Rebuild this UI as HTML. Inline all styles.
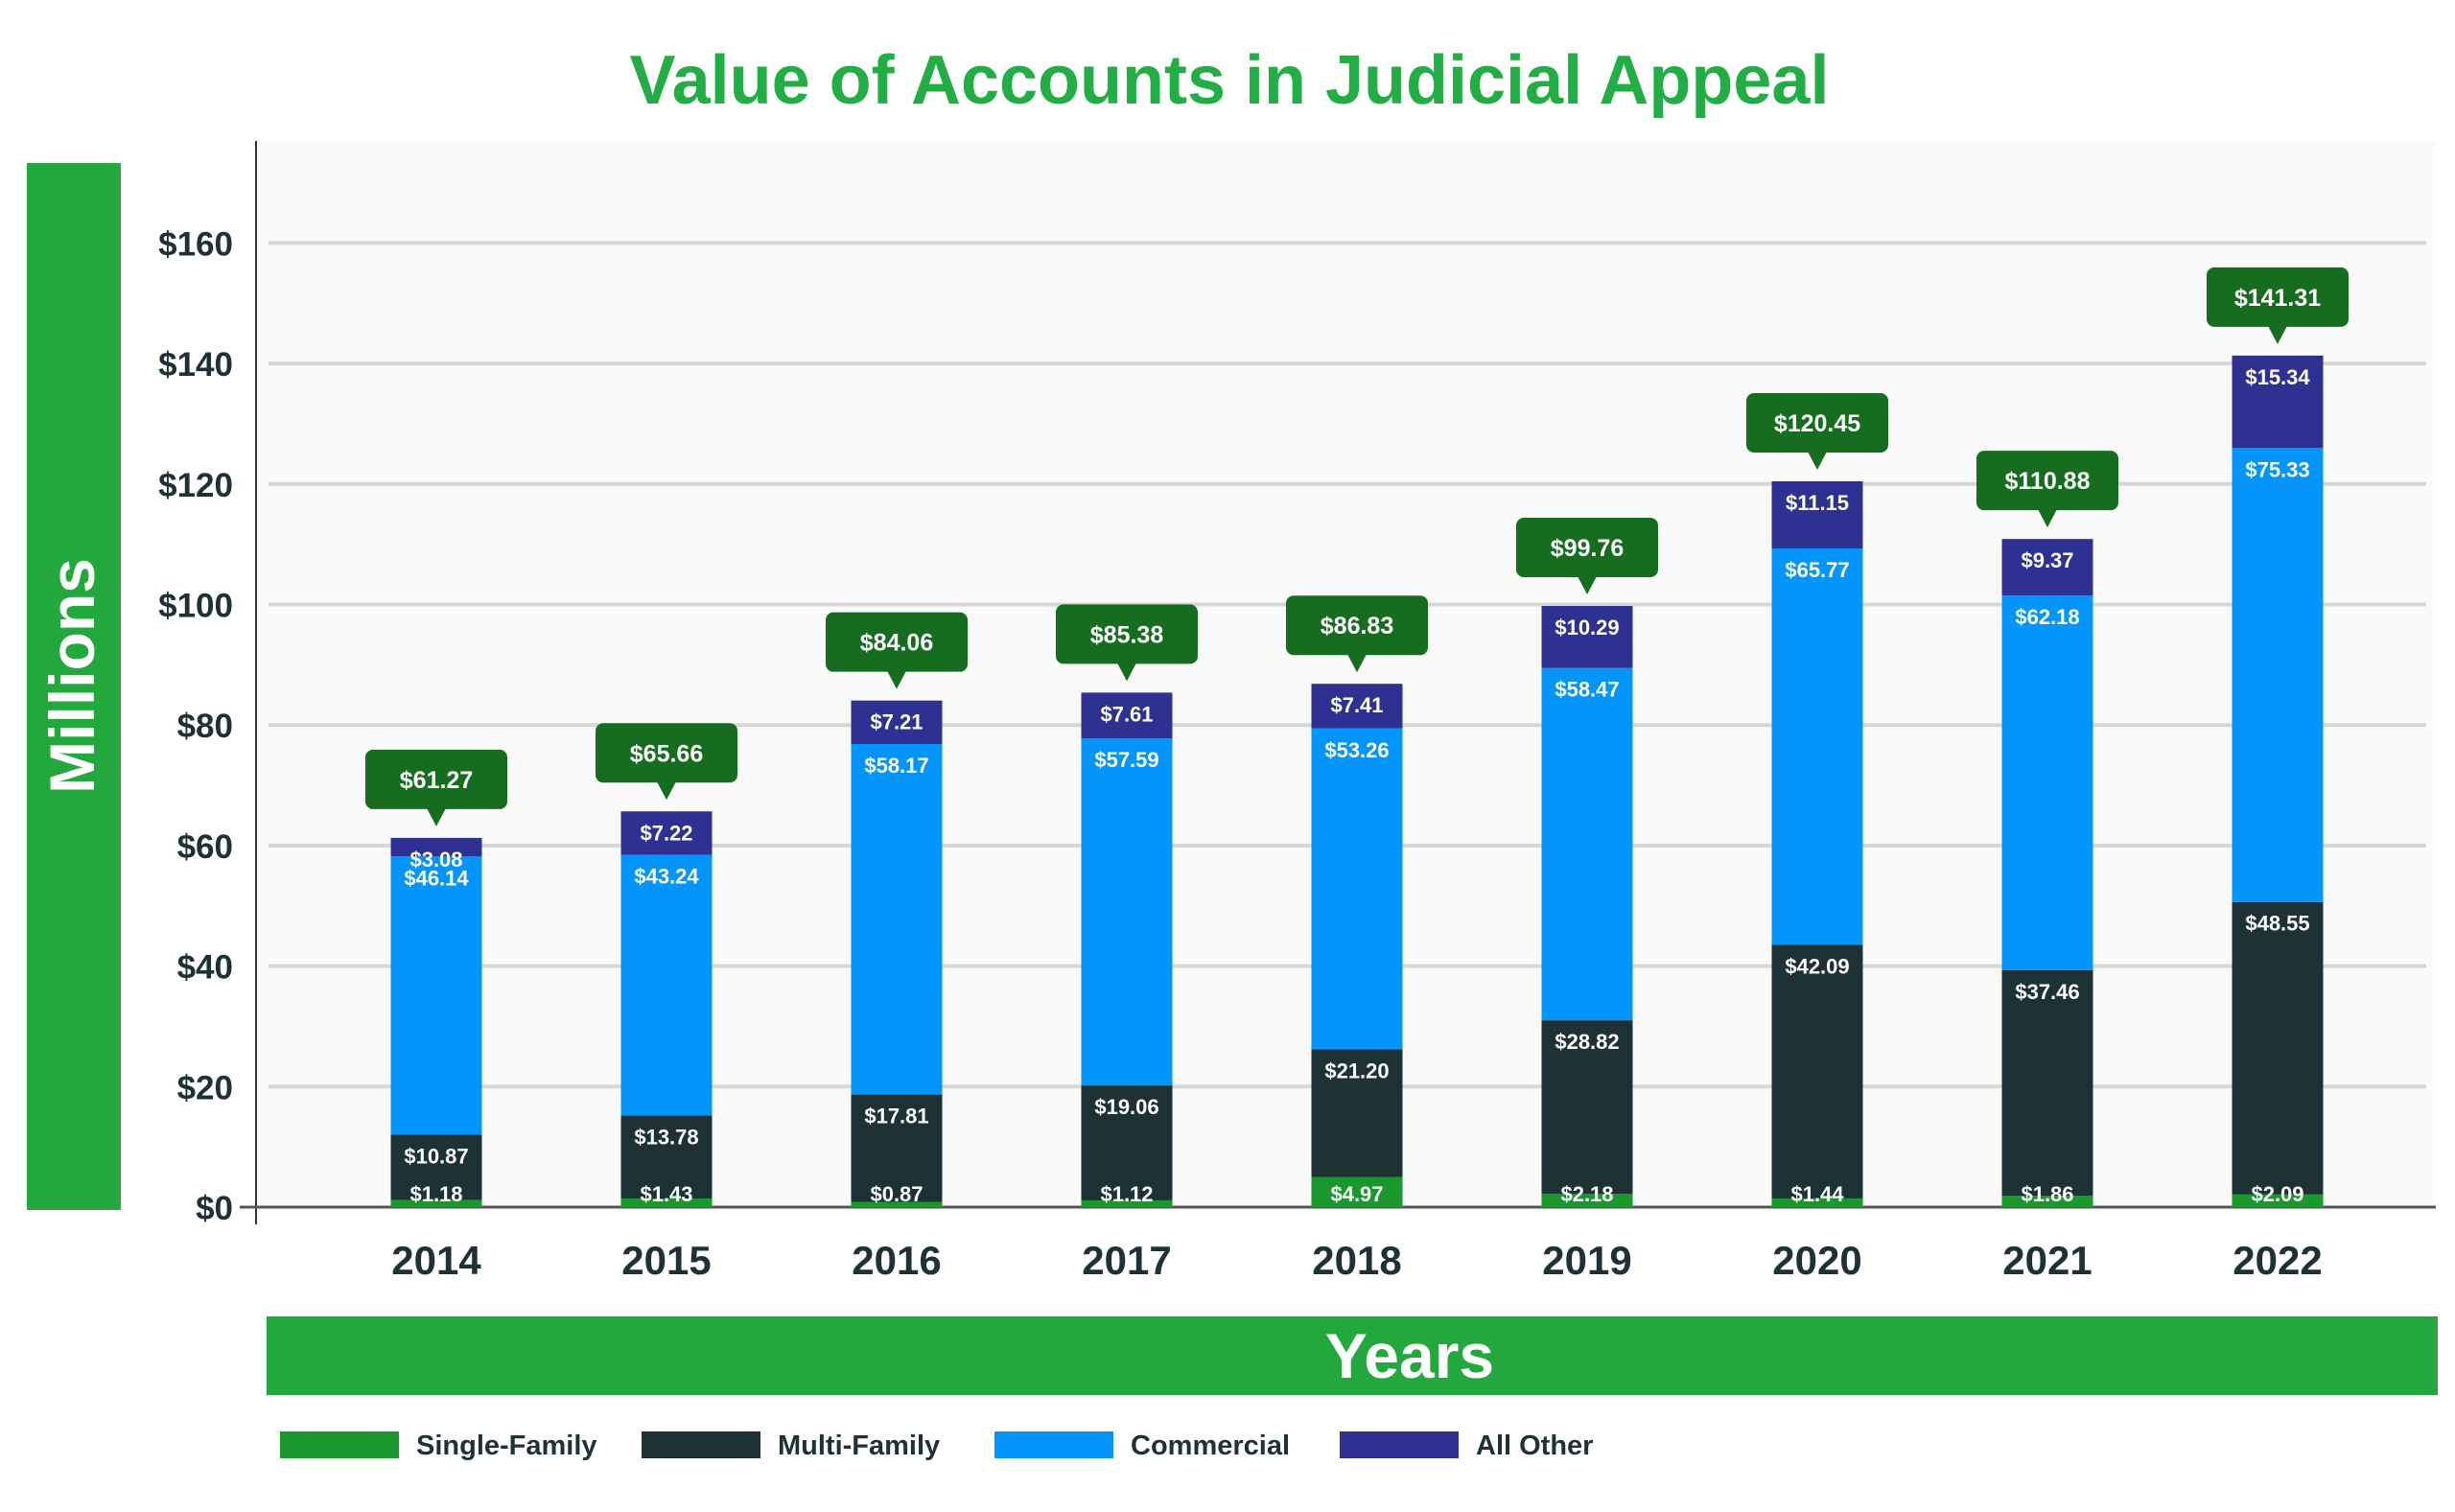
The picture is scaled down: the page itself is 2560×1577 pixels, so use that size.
<!DOCTYPE html>
<html><head><meta charset="utf-8"><style>
html,body{margin:0;padding:0;background:#fff;}
svg{display:block;font-family:"Liberation Sans",sans-serif;font-weight:bold;}
</style></head><body>
<svg id="chart" width="2560" height="1577" viewBox="0 0 2560 1577">
<text x="1282" y="108" text-anchor="middle" font-size="72" fill="#22ad45">Value of Accounts in Judicial Appeal</text>
<rect x="267" y="147" width="2273" height="1112" fill="#fafafa"/>
<g id="grid"></g>
<line x1="267" y1="147" x2="267" y2="1277" stroke="#333" stroke-width="2"/>
<line x1="250" y1="1259" x2="2540" y2="1259" stroke="#555" stroke-width="3"/>
<rect x="28" y="170" width="98" height="1092" fill="#22a83c"/>
<text transform="translate(98,705) rotate(-90)" text-anchor="middle" font-size="66" fill="#fff">Millions</text>
<rect x="278" y="1373" width="2264" height="82" fill="#22a83c"/>
<text x="1470" y="1437" text-anchor="middle" font-size="66" fill="#fff">Years</text>
<g id="bars"></g>
<g id="legend"></g>
</svg>
<script>
const years=["2014","2015","2016","2017","2018","2019","2020","2021","2022"];
const single=[1.18,1.43,0.87,1.12,4.97,2.18,1.44,1.86,2.09];
const multi=[10.87,13.78,17.81,19.06,21.20,28.82,42.09,37.46,48.55];
const commercial=[46.14,43.24,58.17,57.59,53.26,58.47,65.77,62.18,75.33];
const allOther=[3.08,7.22,7.21,7.61,7.41,10.29,11.15,9.37,15.34];
const totals=[61.27,65.66,84.06,85.38,86.83,99.76,120.45,110.88,141.31];
const yTicks=[0,20,40,60,80,100,120,140,160];
const seriesNames=["Single-Family","Multi-Family","Commercial","All Other"];
const colors=["#1a982e","#1e3235","#0495fb","#2e3192"];
const NS="http://www.w3.org/2000/svg";
const y=v=>1259-v*6.285;
const x=i=>455+i*240;
const BW=95;
function mk(tag,attrs,parent,text){const e=document.createElementNS(NS,tag);for(const k in attrs)e.setAttribute(k,attrs[k]);if(text!==undefined)e.textContent=text;parent.appendChild(e);return e;}
const grid=document.getElementById('grid');
yTicks.forEach(t=>{
  if(t>0){const l=mk('line',{x1:280,x2:2530,y1:y(t),y2:y(t),stroke:'#d6d6d6','stroke-width':4},grid);
  
  }
  const tx=mk('text',{x:243,y:y(t)+13,'text-anchor':'end','font-size':35,fill:'#1e3235'},grid,'$'+t);
  
  
});
const bars=document.getElementById('bars');
const series=[single,multi,commercial,allOther];
years.forEach((yr,i)=>{
  let base=0;const cx=x(i);
  series.forEach((s,k)=>{
    const v=s[i];
    const r=mk('rect',{x:cx-BW/2,y:y(base+v),width:BW,height:y(base)-y(base+v),fill:colors[k]},bars);
    
    
    base+=v;
  });
  base=0;
  series.forEach((s,k)=>{
    const v=s[i];
    const ly=k===0?y(0)-6:y(base+v)+30;
    const t=mk('text',{x:cx,y:ly,'text-anchor':'middle','font-size':22,fill:'#fff'},bars,'$'+v.toFixed(2));
    
    
    base+=v;
  });
  const top=y(base);
  const g=mk('g',{},bars);
  
  
  mk('rect',{x:cx-74,y:top-92,width:148,height:62,rx:8,fill:'#176d1f'},g);
  mk('polygon',{points:`${cx-10},${top-31} ${cx+10},${top-31} ${cx},${top-12}`,fill:'#176d1f'},g);
  mk('text',{x:cx,y:top-52,'text-anchor':'middle','font-size':25,fill:'#fff'},g,'$'+totals[i].toFixed(2));
  const xt=mk('text',{x:cx,y:1329,'text-anchor':'middle','font-size':42,fill:'#1e3235'},bars,yr);
  
  
});
const legend=document.getElementById('legend');
const lx=[292,669,1037,1397];
seriesNames.forEach((n,k)=>{
  const g=mk('g',{},legend);
  
  
  mk('rect',{x:lx[k],y:1493,width:124,height:28,fill:colors[k]},g);
  mk('text',{x:lx[k]+142,y:1517,'font-size':29,fill:'#1e3235'},g,n);
});
</script>
</body></html>
